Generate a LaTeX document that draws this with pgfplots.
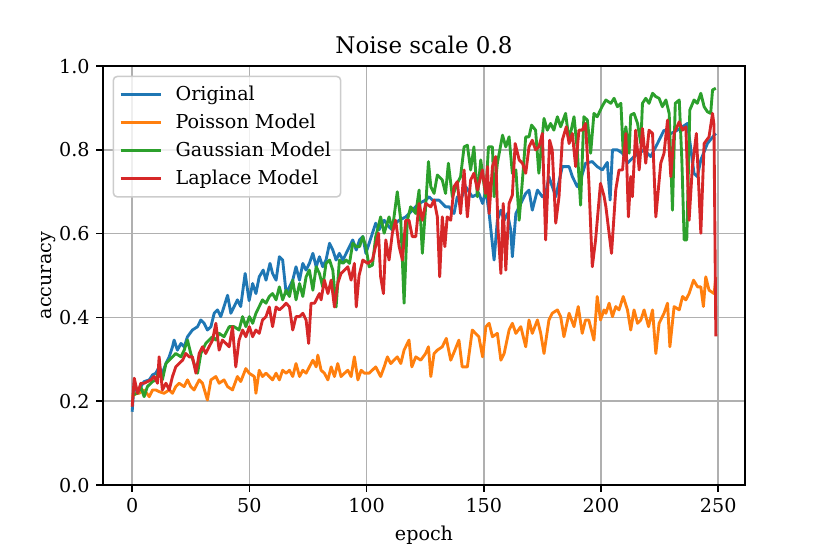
\documentclass[border=0pt]{standalone}
\usepackage{fontspec}
\setmainfont{DejaVu Serif}
\usepackage{pgfplots}
\pgfplotsset{compat=1.18}
\definecolor{C0}{HTML}{1F77B4}
\definecolor{C1}{HTML}{FF7F0E}
\definecolor{C2}{HTML}{2CA02C}
\definecolor{C3}{HTML}{D62728}
\definecolor{gridgray}{HTML}{B0B0B0}
\definecolor{leggray}{HTML}{CCCCCC}
\begin{document}
\begin{tikzpicture}
\path[use as bounding box] (-53.8pt,-36.0pt) rectangle (379.8pt,253.4pt);
\begin{axis}[
  at={(0,0)}, anchor=south west,
  scale only axis, width=335.4pt, height=218.9pt,
  xmin=-12.45, xmax=261.45, ymin=0, ymax=1,
  xtick={0,50,100,150,200,250},
  ytick={0,0.2,0.4,0.6,0.8,1.0},
  yticklabel style={/pgf/number format/.cd, fixed, fixed zerofill, precision=1},
  /pgf/number format/assume math mode=true,
  tick label style={font=\fontsize{10}{12}\selectfont},
  label style={font=\fontsize{10}{12}\selectfont},
  ylabel style={yshift=-5pt},
  xtick pos=left, ytick pos=left,
  tick align=outside, major tick length=3.5pt,
  tick style={black, line width=0.8pt},
  axis line style={line width=0.8pt},
  grid=major, major grid style={line width=0.8pt, color=gridgray},
  xlabel={epoch}, ylabel={accuracy},
  title={Noise scale 0.8},
  title style={font=\fontsize{12}{14}\selectfont, at={(0.5,1)}, anchor=south, yshift=-3pt},
  legend style={at={(0.015,0.977)}, anchor=north west, draw=leggray, line width=0.8pt, rounded corners=2pt, fill=white, fill opacity=0.8, text opacity=1, inner xsep=3pt, inner ysep=3pt, row sep=1.5pt, font=\fontsize{10}{12}\selectfont},
  legend cell align=left,
  legend image code/.code={\draw[#1] (-1pt,0pt) -- (20pt,0pt); \path (25pt,0pt);},
  every axis plot/.append style={line width=1.5pt, line join=round},
]
\addplot[C0] coordinates {(0,0.175)(0.9,0.247)(2.3,0.219)(3.7,0.235)(5.1,0.247)(7.3,0.251)(8.7,0.263)(10.1,0.267)(11.5,0.282)(12.9,0.267)(14.4,0.290)(15.8,0.306)(17.2,0.330)(17.9,0.346)(19.3,0.322)(20.8,0.338)(22.2,0.330)(23.6,0.354)(25.7,0.370)(27.9,0.378)(29.3,0.394)(30.7,0.386)(32.1,0.370)(33.6,0.378)(35.0,0.410)(36.4,0.418)(37.8,0.402)(39.2,0.426)(40.7,0.453)(42.1,0.410)(43.5,0.426)(44.9,0.442)(46.3,0.426)(48.2,0.505)(49.9,0.440)(51.4,0.481)(52.8,0.457)(54.2,0.497)(55.9,0.513)(57.1,0.489)(58.8,0.529)(59.9,0.505)(61.4,0.489)(62.8,0.545)(64.2,0.537)(65.7,0.457)(67.1,0.473)(68.5,0.489)(69.9,0.521)(71.4,0.489)(72.8,0.529)(74.2,0.513)(75.6,0.529)(77.1,0.553)(78.5,0.521)(79.9,0.545)(81.3,0.521)(82.7,0.537)(84.2,0.577)(85.6,0.561)(87.0,0.537)(88.4,0.553)(89.9,0.537)(91.3,0.553)(92.7,0.569)(94.1,0.585)(95.6,0.561)(97.0,0.585)(98.4,0.593)(99.7,0.553)(101.1,0.577)(102.5,0.601)(103.9,0.625)(105.3,0.609)(107.5,0.632)(109.6,0.616)(111.0,0.609)(112.4,0.625)(113.9,0.632)(116.7,0.640)(118.1,0.648)(119.5,0.656)(122.4,0.672)(125.2,0.680)(126.7,0.688)(128.1,0.680)(130.9,0.680)(132.3,0.672)(133.7,0.664)(135.2,0.664)(137.3,0.648)(138.7,0.688)(140.1,0.680)(142.3,0.712)(145.1,0.688)(147.9,0.696)(149.5,0.672)(150.9,0.704)(152.3,0.648)(154.4,0.537)(155.8,0.632)(157.3,0.656)(158.7,0.632)(160.1,0.648)(161.5,0.609)(162.2,0.545)(163.7,0.648)(165.8,0.672)(167.9,0.696)(169.3,0.704)(170.7,0.656)(172.9,0.704)(175.0,0.688)(176.4,0.696)(177.8,0.736)(180.7,0.688)(183.5,0.760)(186.4,0.760)(187.8,0.736)(189.9,0.712)(191.3,0.728)(193.4,0.768)(196.3,0.772)(198.4,0.760)(200.6,0.752)(202.7,0.770)(203.9,0.680)(204.9,0.800)(207.0,0.800)(209.2,0.792)(211.3,0.768)(214.1,0.784)(216.3,0.792)(218.4,0.800)(221.2,0.784)(224.1,0.815)(226.9,0.847)(229.8,0.839)(232.6,0.847)(236.9,0.863)(239.7,0.744)(241.1,0.736)(242.6,0.776)(245.4,0.815)(248.3,0.835)(249,0.839)};
\addlegendentry{Original}
\addplot[C1] coordinates {(0,0.211)(1.6,0.219)(3.0,0.219)(5.1,0.227)(7.3,0.211)(8.7,0.227)(10.1,0.227)(11.5,0.223)(13.6,0.219)(15.8,0.227)(17.2,0.219)(18.6,0.235)(20.0,0.243)(22.2,0.235)(23.6,0.251)(25.0,0.235)(26.4,0.227)(28.6,0.251)(30.0,0.243)(32.1,0.203)(33.6,0.251)(35.7,0.259)(37.1,0.243)(39.2,0.251)(40.7,0.235)(42.8,0.227)(44.9,0.259)(46.3,0.247)(48.5,0.278)(49.9,0.267)(52.1,0.259)(52.8,0.219)(54.2,0.274)(55.6,0.259)(57.1,0.267)(58.5,0.259)(59.9,0.251)(61.4,0.267)(62.8,0.251)(64.2,0.274)(65.7,0.267)(67.1,0.274)(68.5,0.259)(69.9,0.290)(71.4,0.259)(72.8,0.274)(74.2,0.267)(75.6,0.282)(77.1,0.298)(78.5,0.282)(79.2,0.310)(80.6,0.274)(82.0,0.267)(83.5,0.251)(84.9,0.282)(86.3,0.259)(87.7,0.290)(89.1,0.259)(90.6,0.267)(92.0,0.274)(93.4,0.259)(94.8,0.306)(96.3,0.251)(97.7,0.274)(99.1,0.267)(101.1,0.267)(103.9,0.282)(106.0,0.259)(107.5,0.282)(108.9,0.306)(110.3,0.290)(111.7,0.298)(113.1,0.306)(114.6,0.290)(116.0,0.322)(118.1,0.346)(119.3,0.282)(121.0,0.306)(123.1,0.298)(125.2,0.314)(126.4,0.330)(127.4,0.259)(128.8,0.314)(130.2,0.322)(132.3,0.330)(134.0,0.350)(135.9,0.298)(137.7,0.322)(139.4,0.346)(140.8,0.282)(143.0,0.282)(145.1,0.370)(146.5,0.362)(147.9,0.354)(149.5,0.306)(150.9,0.378)(152.3,0.386)(153.7,0.354)(155.8,0.362)(157.3,0.298)(158.7,0.314)(160.8,0.370)(162.2,0.386)(163.7,0.362)(165.8,0.378)(167.9,0.330)(169.3,0.394)(170.7,0.362)(172.9,0.394)(174.3,0.362)(175.7,0.314)(177.8,0.394)(179.2,0.410)(181.4,0.418)(182.8,0.402)(184.2,0.354)(186.4,0.410)(188.5,0.378)(190.3,0.426)(192.0,0.362)(193.4,0.394)(194.8,0.394)(197.0,0.346)(198.4,0.450)(199.8,0.394)(201.3,0.418)(202.1,0.410)(203.5,0.434)(204.9,0.402)(206.3,0.426)(207.7,0.418)(209.5,0.450)(211.3,0.418)(212.7,0.370)(214.1,0.418)(215.6,0.386)(217.0,0.394)(218.4,0.418)(220.3,0.378)(222.0,0.418)(223.4,0.314)(224.8,0.386)(226.9,0.410)(228.4,0.434)(229.4,0.330)(231.2,0.426)(233.4,0.418)(234.8,0.450)(236.2,0.442)(237.6,0.457)(239.5,0.489)(241.2,0.473)(242.6,0.473)(243.7,0.426)(244.7,0.497)(246.1,0.465)(248.3,0.457)(249,0.497)};
\addlegendentry{Poisson Model}
\addplot[C2] coordinates {(0,0.215)(2.3,0.219)(3.7,0.235)(5.1,0.211)(6.5,0.235)(8.7,0.247)(10.1,0.251)(11.5,0.274)(12.9,0.251)(14.4,0.290)(15.8,0.298)(17.2,0.306)(18.6,0.314)(20.8,0.306)(22.2,0.322)(23.6,0.346)(25.0,0.314)(26.4,0.290)(27.9,0.267)(29.3,0.314)(31.4,0.338)(32.8,0.346)(34.3,0.354)(35.7,0.346)(37.1,0.362)(39.2,0.354)(41.4,0.378)(43.5,0.378)(45.6,0.370)(47.1,0.402)(48.5,0.378)(50.0,0.402)(51.4,0.386)(52.8,0.410)(54.2,0.426)(55.6,0.442)(57.1,0.434)(58.5,0.450)(59.9,0.457)(61.4,0.442)(62.8,0.473)(64.2,0.442)(65.7,0.465)(67.1,0.450)(68.5,0.489)(69.9,0.442)(71.4,0.481)(72.8,0.450)(74.2,0.497)(75.6,0.513)(77.1,0.465)(78.5,0.521)(79.9,0.505)(81.3,0.473)(82.7,0.529)(84.2,0.537)(85.6,0.513)(87.0,0.425)(88.4,0.537)(89.9,0.529)(91.3,0.537)(92.7,0.529)(94.1,0.577)(95.6,0.569)(97.0,0.569)(98.4,0.593)(99.7,0.569)(101.1,0.521)(102.5,0.525)(103.9,0.593)(106.0,0.640)(107.5,0.601)(109.6,0.640)(111.0,0.609)(113.1,0.700)(114.6,0.632)(116.0,0.434)(117.4,0.632)(118.8,0.664)(121.0,0.648)(122.4,0.704)(123.8,0.553)(125.2,0.664)(126.4,0.772)(127.4,0.712)(128.8,0.696)(130.2,0.740)(132.3,0.728)(133.7,0.696)(134.9,0.768)(136.6,0.688)(138.7,0.720)(140.1,0.736)(141.6,0.807)(143.0,0.811)(144.4,0.752)(145.8,0.807)(147.3,0.688)(148.7,0.776)(150.8,0.688)(152.0,0.807)(153.7,0.807)(154.4,0.688)(155.8,0.768)(158.0,0.835)(159.4,0.807)(160.8,0.831)(162.2,0.744)(163.7,0.752)(165.1,0.632)(166.5,0.728)(167.9,0.831)(169.3,0.831)(170.4,0.859)(172.1,0.847)(173.5,0.744)(175.7,0.875)(177.1,0.847)(178.5,0.863)(179.9,0.847)(181.4,0.879)(182.8,0.855)(184.9,0.887)(186.4,0.823)(188.5,0.879)(189.9,0.800)(191.3,0.668)(192.7,0.879)(194.2,0.871)(195.6,0.792)(197.0,0.887)(198.4,0.879)(200.6,0.905)(202.1,0.919)(204.2,0.911)(205.6,0.923)(207.0,0.903)(208.5,0.911)(209.5,0.792)(210.6,0.855)(212.0,0.792)(212.7,0.883)(214.1,0.887)(215.6,0.863)(217.0,0.815)(217.7,0.911)(219.1,0.923)(220.5,0.911)(222.0,0.935)(223.4,0.927)(224.8,0.923)(226.2,0.903)(227.7,0.919)(229.1,0.887)(230.5,0.656)(231.7,0.911)(233.4,0.919)(234.5,0.776)(235.5,0.585)(236.6,0.585)(237.9,0.895)(239.7,0.919)(241.1,0.911)(242.6,0.935)(244.0,0.903)(245.4,0.891)(246.8,0.887)(247.6,0.943)(249,0.947)};
\addlegendentry{Gaussian Model}
\addplot[C3] coordinates {(0,0.187)(0.9,0.255)(2.3,0.219)(3.7,0.243)(5.1,0.243)(6.5,0.247)(8.0,0.251)(9.4,0.259)(10.8,0.243)(11.5,0.306)(12.9,0.227)(14.4,0.243)(15.8,0.227)(17.2,0.259)(18.6,0.282)(20.0,0.290)(21.5,0.298)(22.9,0.314)(24.3,0.306)(25.7,0.306)(27.2,0.267)(28.6,0.314)(30.0,0.330)(31.4,0.314)(32.8,0.330)(34.3,0.346)(35.7,0.386)(37.1,0.322)(38.5,0.346)(40.0,0.338)(41.4,0.330)(42.8,0.378)(44.2,0.282)(45.6,0.346)(47.1,0.370)(48.5,0.354)(50.0,0.378)(51.4,0.354)(52.8,0.370)(54.2,0.362)(55.6,0.394)(57.1,0.402)(58.5,0.425)(59.9,0.378)(61.4,0.425)(62.8,0.418)(64.2,0.425)(65.7,0.434)(67.1,0.425)(68.5,0.370)(69.9,0.402)(71.4,0.402)(72.8,0.410)(74.2,0.394)(75.3,0.338)(76.3,0.434)(77.8,0.434)(79.9,0.457)(80.6,0.442)(82.0,0.489)(83.5,0.457)(84.9,0.489)(86.3,0.425)(87.7,0.481)(89.1,0.505)(90.6,0.513)(92.0,0.521)(93.4,0.489)(94.8,0.529)(95.6,0.425)(96.8,0.500)(98.4,0.537)(100.5,0.529)(102.5,0.537)(105.1,0.601)(106.0,0.497)(107.2,0.457)(108.2,0.585)(109.6,0.537)(111.0,0.601)(112.4,0.632)(113.9,0.569)(115.3,0.537)(116.7,0.632)(118.1,0.632)(119.5,0.593)(121.0,0.593)(122.4,0.672)(123.8,0.632)(125.2,0.672)(127.4,0.664)(128.8,0.680)(130.2,0.640)(131.2,0.497)(132.3,0.640)(133.4,0.569)(134.4,0.640)(135.9,0.632)(137.3,0.712)(138.7,0.724)(140.1,0.648)(141.6,0.752)(143.0,0.640)(144.4,0.728)(145.8,0.744)(147.3,0.704)(149.4,0.752)(150.8,0.696)(151.6,0.760)(152.3,0.648)(153.7,0.760)(155.1,0.784)(156.1,0.609)(157.3,0.505)(158.3,0.672)(159.4,0.513)(160.8,0.672)(162.2,0.692)(163.4,0.815)(165.1,0.776)(166.5,0.768)(167.9,0.744)(169.3,0.807)(170.7,0.823)(172.1,0.800)(173.5,0.807)(175.0,0.839)(176.4,0.585)(178.1,0.823)(179.2,0.800)(180.7,0.625)(182.1,0.688)(183.5,0.823)(185.2,0.855)(186.4,0.815)(187.8,0.839)(189.2,0.760)(190.6,0.847)(192.0,0.847)(193.4,0.863)(194.8,0.728)(196.3,0.521)(197.7,0.585)(199.8,0.720)(201.3,0.690)(202.1,0.664)(204.5,0.553)(206.3,0.704)(207.7,0.752)(209.2,0.752)(210.6,0.839)(211.7,0.640)(212.7,0.736)(213.4,0.688)(214.8,0.847)(216.3,0.752)(217.7,0.851)(219.1,0.768)(220.5,0.847)(222.0,0.839)(223.4,0.640)(225.5,0.768)(226.9,0.792)(228.4,0.871)(229.8,0.736)(231.2,0.839)(233.4,0.867)(234.8,0.847)(236.2,0.855)(237.6,0.632)(239.0,0.760)(240.7,0.839)(242.6,0.601)(244.0,0.815)(246.1,0.831)(247.6,0.887)(248.2,0.860)(249,0.355)};
\addlegendentry{Laplace Model}
\end{axis}
\end{tikzpicture}
\end{document}
